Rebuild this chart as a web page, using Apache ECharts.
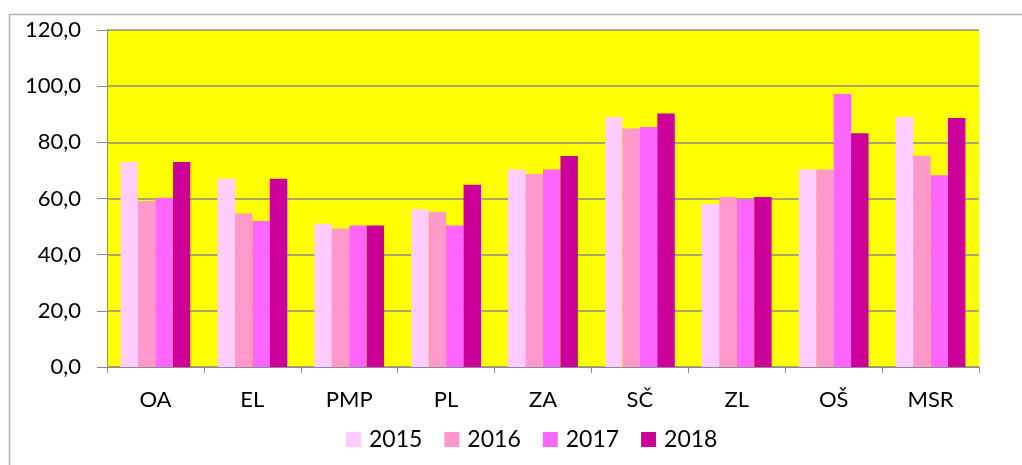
<!DOCTYPE html>
<html>
<head>
<meta charset="utf-8">
<script src="https://cdn.jsdelivr.net/npm/echarts@6/dist/echarts.min.js"></script>
<style>
  html, body { margin: 0; padding: 0; background: #fff; }
  #chart { width: 1022px; height: 465px; }
</style>
</head>
<body>
<div id="chart"></div>
<script>
// categories and yearly values
const categories = ['OA', 'EL', 'PMP', 'PL', 'ZA', 'SČ', 'ZL', 'OŠ', 'MSR']
const years = ['2015', '2016', '2017', '2018']
const v2015 = [73.0, 67.0, 51.0, 56.2, 70.3, 89.0, 58.0, 70.3, 89.1]
const v2016 = [59.1, 54.7, 49.2, 55.2, 68.7, 84.9, 60.5, 70.3, 75.2]
const v2017 = [60.3, 52.0, 50.4, 50.4, 70.3, 85.5, 59.6, 97.2, 68.3]
const v2018 = [73.0, 67.0, 50.4, 64.9, 75.1, 90.3, 60.5, 83.2, 88.7]
const colors = ['#FFCCFF', '#FF99CC', '#FF66FF', '#CC0099']

const font = 'Lato'
const gray = '#8c8c8c'

let chart = echarts.init(document.getElementById('chart'))
let values = [v2015, v2016, v2017, v2018]

let option = {
  animation: false,
  color: colors,
  textStyle: { fontFamily: font },
  graphic: [{
    type: 'rect',
    shape: { x: 9.5, y: 14.5, width: 1100, height: 600 },
    style: { fill: 'none', stroke: '#b4b4b4', lineWidth: 1.5 },
    silent: true
  }],
  grid: {
    left: 107,
    right: 43,
    top: 30,
    bottom: 98,
    show: true,
    backgroundColor: '#FFFF00',
    borderWidth: 0
  },
  legend: {
    left: 341,
    top: 423,
    itemWidth: 15,
    itemHeight: 15,
    itemGap: 22,
    icon: 'rect',
    textStyle: { fontFamily: font, fontSize: 23, color: '#000', padding: [0, 0, 0, 3] },
    data: years
  },
  xAxis: {
    type: 'category',
    data: categories,
    axisLine: { lineStyle: { color: gray, width: 1 } },
    axisTick: { show: true, length: 6, interval: 0, lineStyle: { color: gray } },
    axisLabel: { margin: 22, fontSize: 22, color: '#000', fontFamily: font, interval: 0 },
    splitLine: { show: false }
  },
  yAxis: {
    type: 'value',
    min: 0,
    max: 120,
    interval: 20,
    axisLine: { show: true, lineStyle: { color: gray, width: 1 } },
    axisTick: { show: true, length: 10, lineStyle: { color: gray } },
    axisLabel: {
      margin: 26,
      fontSize: 22,
      color: '#000',
      fontFamily: font,
      formatter: val => val.toFixed(1).replace('.', ',')
    },
    splitLine: { show: true, lineStyle: { color: gray, width: 1.5 } }
  },
  series: years.map((y, i) => ({
    name: y,
    type: 'bar',
    data: values[i],
    barGap: '0%',
    barCategoryGap: '28%',
    itemStyle: { color: colors[i] }
  }))
}

chart.setOption(option)
</script>
</body>
</html>
